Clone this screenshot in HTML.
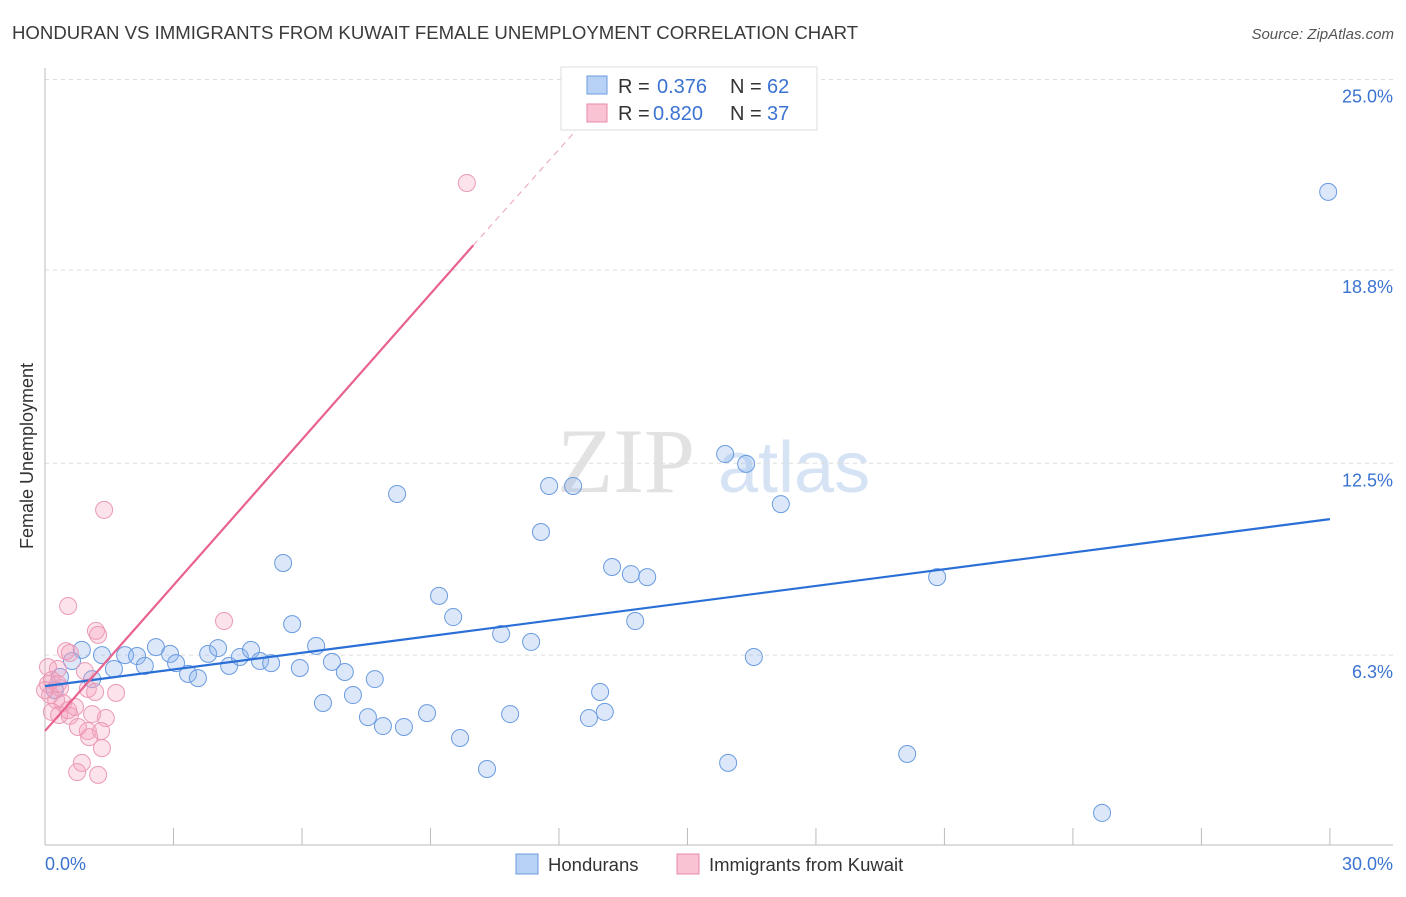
<!DOCTYPE html>
<html><head><meta charset="utf-8"><style>
body{margin:0;background:#fff;width:1406px;height:892px;overflow:hidden;font-family:"Liberation Sans",sans-serif}
</style></head><body>
<svg width="1406" height="892" xmlns="http://www.w3.org/2000/svg" id="svg">
<text x="12" y="39" font-size="18.6" fill="#3a3a3a">HONDURAN VS IMMIGRANTS FROM KUWAIT FEMALE UNEMPLOYMENT CORRELATION CHART</text>
<text x="1394" y="39" font-size="15" fill="#555" text-anchor="end" font-style="italic">Source: ZipAtlas.com</text>
<text x="557" y="492" font-size="92" fill="#e2e2e2" font-family="Liberation Serif">ZIP</text>
<text x="718" y="492" font-size="72" fill="#d5e3f5">atlas</text>
<text transform="translate(33,456) rotate(-90)" font-size="18" fill="#333" text-anchor="middle">Female Unemployment</text>
<g id="grid"></g><g id="axes"></g><g id="pts"></g><g id="trend"></g>
<g>
<rect x="561" y="67" width="256" height="63" fill="#fff" stroke="#ddd"/>
<rect x="587" y="76" width="20" height="18" fill="#b8d2f5" stroke="#6a9be0"/>
<rect x="587" y="104" width="20" height="18" fill="#f9c3d3" stroke="#e88aa8"/>
<text x="618" y="93" font-size="20" fill="#333">R =</text>
<text x="657" y="93" font-size="20" fill="#3b73d1">0.376</text>
<text x="730" y="93" font-size="20" fill="#333">N =</text>
<text x="767" y="93" font-size="20" fill="#3b73d1">62</text>
<text x="618" y="120" font-size="20" fill="#333">R =</text>
<text x="653" y="120" font-size="20" fill="#3b73d1">0.820</text>
<text x="730" y="120" font-size="20" fill="#333">N =</text>
<text x="767" y="120" font-size="20" fill="#3b73d1">37</text>
</g>
<g>
<rect x="516" y="854" width="22" height="20" fill="#b8d2f5" stroke="#6a9be0"/>
<text x="548" y="871" font-size="18.5" fill="#333">Hondurans</text>
<rect x="677" y="854" width="22" height="20" fill="#f9c3d3" stroke="#e88aa8"/>
<text x="709" y="871" font-size="18.5" fill="#333">Immigrants from Kuwait</text>
</g>
</svg>
<script>
const blueX=[0.86,1.33,1.61,1.87,2.15,2.33,2.59,2.92,3.06,3.34,3.57,3.81,4.04,4.30,4.55,4.81,5.02,5.28,5.56,5.77,5.95,6.33,6.49,6.70,7.00,7.19,7.54,7.70,7.89,8.22,8.38,8.92,9.20,9.53,9.69,10.32,10.65,10.86,11.35,11.58,11.77,12.33,12.70,12.96,13.07,13.24,13.68,13.78,14.06,15.88,15.95,16.37,16.55,17.18,20.13,20.83,24.68,29.96,0.35,0.23,0.63,1.10];
const blueY=[6.42,6.25,5.80,6.25,6.22,5.90,6.51,6.29,5.99,5.64,5.50,6.29,6.48,5.90,6.19,6.42,6.06,5.99,9.25,7.26,5.83,6.55,4.69,6.03,5.70,4.95,4.23,5.47,3.94,11.50,3.91,4.36,8.18,7.49,3.55,2.54,6.94,4.33,6.68,10.26,11.76,11.76,4.20,5.05,4.40,9.12,8.89,7.36,8.79,12.80,2.74,12.48,6.19,11.17,3.03,8.79,1.11,21.34,5.54,5.11,6.06,5.47];
const pinkX=[9.85,1.38,0.54,4.18,1.19,1.24,0.49,0.58,0.30,0.93,0.07,0.16,0.35,1.00,1.17,1.66,0.12,0.26,0.42,0.70,0.16,0.33,0.58,1.10,1.42,0.77,1.00,1.31,1.03,1.33,0.86,0.75,1.24,0.54,0.07,0.00,0.30];
const pinkY=[21.63,10.98,7.85,7.36,7.04,6.91,6.38,6.32,5.80,5.73,5.86,5.44,5.18,5.15,5.05,5.02,4.95,4.79,4.69,4.56,4.40,4.30,4.27,4.33,4.20,3.91,3.78,3.78,3.58,3.22,2.74,2.44,2.35,4.46,5.31,5.11,5.31];
const blueTrendX=[0,30], blueTrendY=[5.24,10.68];
const pinkTrendX=[0,10.0], pinkTrendY=[3.78,19.6];
const pinkDashX=[10.0,12.5], pinkDashY=[19.6,23.5];
const yTicks=[25.0,18.8,12.5,6.3], yTickLabels=["25.0%","18.8%","12.5%","6.3%"];
const xTickVals=[3,6,9,12,15,18,21,24,27,30];
const NS="http://www.w3.org/2000/svg";
const sx=v=>45+v*42.83, sy=v=>847-v*30.7;
function mk(t,a,p){const e=document.createElementNS(NS,t);for(const k in a)e.setAttribute(k,a[k]);document.getElementById(p).appendChild(e);return e;}
yTicks.forEach((v,i)=>{
 const yy=sy(v===6.3?6.25:v);
 const g=mk('line',{x1:45,x2:1393,y1:yy,y2:yy,stroke:'#ddd','stroke-dasharray':'4,4'},'grid');
 
 
 const t=mk('text',{x:1393,y:yy+23,'font-size':18,fill:'#3b73d1','text-anchor':'end'},'grid');
 t.textContent=yTickLabels[i];
 
 
});
let a=mk('line',{x1:45,x2:45,y1:68,y2:845,stroke:'#bbb'},'axes');


a=mk('line',{x1:45,x2:1393,y1:845,y2:845,stroke:'#bbb'},'axes');


xTickVals.forEach(v=>{const l=mk('line',{x1:sx(v),x2:sx(v),y1:828,y2:845,stroke:'#bbb'},'axes');
 
 });
let t=mk('text',{x:45,y:870,'font-size':18,fill:'#3b73d1'},'axes');t.textContent='0.0%';


t=mk('text',{x:1393,y:870,'font-size':18,fill:'#3b73d1','text-anchor':'end'},'axes');t.textContent='30.0%';


blueX.forEach((x,i)=>{const c=mk('circle',{cx:sx(x),cy:sy(blueY[i]),r:8.5,fill:'rgba(140,180,240,0.3)',stroke:'#6a9be0','stroke-width':1},'pts');
 
 });
pinkX.forEach((x,i)=>{const c=mk('circle',{cx:sx(x),cy:sy(pinkY[i]),r:8.5,fill:'rgba(245,160,190,0.3)',stroke:'#eb9ab5','stroke-width':1},'pts');
 
 });
let L=mk('line',{x1:sx(blueTrendX[0]),y1:sy(blueTrendY[0]),x2:sx(blueTrendX[1]),y2:sy(blueTrendY[1]),stroke:'#2a6fd6','stroke-width':2.2},'trend');


L=mk('line',{x1:sx(pinkTrendX[0]),y1:sy(pinkTrendY[0]),x2:sx(pinkTrendX[1]),y2:sy(pinkTrendY[1]),stroke:'#e8628e','stroke-width':2.2},'trend');


L=mk('line',{x1:sx(pinkDashX[0]),y1:sy(pinkDashY[0]),x2:sx(pinkDashX[1]),y2:sy(pinkDashY[1]),stroke:'#eaa0b8','stroke-width':1,'stroke-dasharray':'6,5'},'trend');


</script>
</body></html>
